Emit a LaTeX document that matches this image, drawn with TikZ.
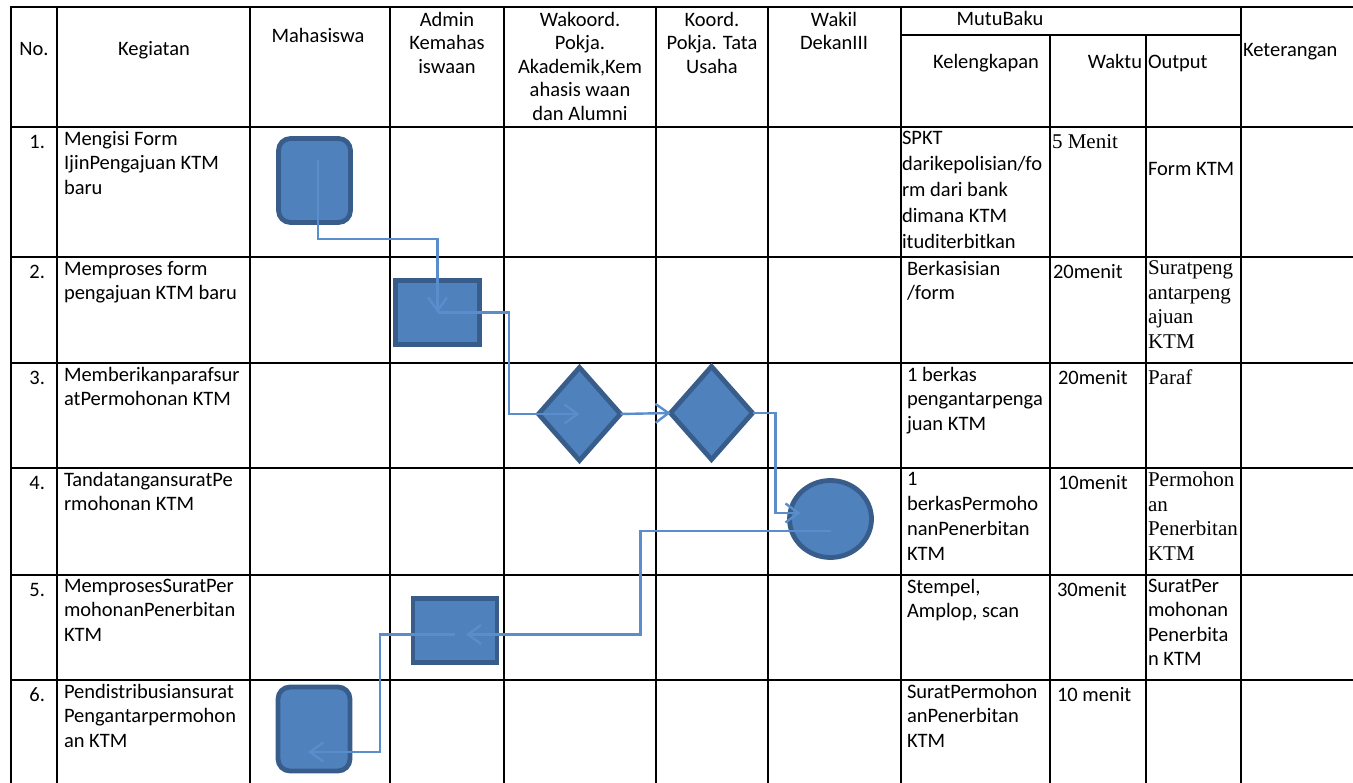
\documentclass[tikz,border=0pt]{standalone}
\usepackage{fontspec}
\setmainfont{Carlito}
\newfontfamily\tmsfont{Liberation Serif}
\usepackage{tikz}
\usetikzlibrary{positioning,arrows.meta,shapes.geometric}
\definecolor{shapefill}{HTML}{4F81BD}
\definecolor{shapeline}{HTML}{385D8A}
\definecolor{flowblue}{HTML}{5A8DCB}
\newcommand{\cellfont}{\fontsize{20.5}{24.5}\selectfont}
\newcommand{\hdrfont}{\fontsize{20.5}{23.5}\selectfont}
\newcommand{\serfont}{\tmsfont\fontsize{21}{24.5}\selectfont}

\begin{document}
\begin{tikzpicture}[
    x=1pt, y=-1pt,
    every node/.style={inner sep=0pt, outer sep=0pt},
    grid/.style={line width=2.6pt, black},                          % garis tabel
    hdr/.style={anchor=north, align=center, font=\hdrfont, execute at begin node=\strut},
    cell/.style={anchor=north west, align=left, font=\cellfont, execute at begin node=\strut},
    cellser/.style={cell, font=\serfont},                           % isian Times
    num/.style={anchor=north east, font=\cellfont, execute at begin node=\strut},
    blk/.style={fill=shapefill, draw=shapeline, line width=4.8pt},
    mulai/.style={blk, rectangle, rounded corners=12pt, minimum width=72pt, minimum height=84pt},
    proses/.style={blk, rectangle, minimum width=84pt, minimum height=64pt},
    putus/.style={blk, diamond, minimum width=82pt, minimum height=93pt},
    ttd/.style={blk, ellipse, minimum width=82pt, minimum height=77pt},
    alur/.style={line width=2.4pt, flowblue, -{Straight Barb[length=13pt,width=19pt]}}
  ]
  \useasboundingbox (0,0) rectangle (1353,783);

  % ============ kerangka tabel ==========================================
  \draw[grid] (1353,7) -- (11,7) -- (11,783);
  \draw[grid] (11,127) -- (1353,127);
  \draw[grid] (11,257) -- (1353,257);
  \draw[grid] (11,363) -- (1353,363);
  \draw[grid] (11,468) -- (1353,468);
  \draw[grid] (11,575) -- (1353,575);
  \draw[grid] (11,680) -- (1353,680);
  \draw[grid] (901,35) -- (1241,35);                              % bawah MutuBaku
  \draw[grid] (57,7) -- (57,783);
  \draw[grid] (250,7) -- (250,783);
  \draw[grid] (390,7) -- (390,783);
  \draw[grid] (504,7) -- (504,783);
  \draw[grid] (656,7) -- (656,783);
  \draw[grid] (768,7) -- (768,783);
  \draw[grid] (901,7) -- (901,783);
  \draw[grid] (1050,35) -- (1050,783);
  \draw[grid] (1146,35) -- (1146,783);
  \draw[grid] (1241,7) -- (1241,783);

  % ============ judul kolom ==============================================
  \node[hdr] (hNo) at (34,39) {No.};
  \node[hdr] (hKeg) at (154,39) {Kegiatan};
  \node[hdr] (hMhs) at (318,26) {Mahasiswa};
  \node[hdr] (hAdm) at (447,12) {Admin\\Kemahas\\iswaan};
  \node[hdr] (hWak) at (580,12) {Wakoord.\\Pokja.\\Akademik,Kem\\ahasis waan\\dan Alumni};
  \node[hdr] (hKor) at (712,12) {Koord.\\Pokja. Tata\\Usaha};
  \node[hdr] (hWd) at (834,12) {Wakil\\DekanIII};
  \node[hdr] (hMutu) at (1000,9) {MutuBaku};
  \node[hdr] (hKel) at (986,52) {Kelengkapan};
  \node[hdr, anchor=north east] (hWkt) at (1142,52) {Waktu};
  \node[hdr, anchor=north west] (hOut) at (1148,52) {Output};
  \node[hdr, anchor=north west] (hKet) at (1243,40) {Keterangan};

  % ============ isi baris ================================================
  \node[num] (n1) at (45,131) {1.};
  \node[cell] (k1) at (64,131) {Mengisi Form\\IjinPengajuan KTM\\baru};
  \node[cell, font=\fontsize{20.5}{26}\selectfont] (l1) at (902,131)
    {SPKT\\darikepolisian/fo\\rm dari bank\\dimana KTM\\ituditerbitkan};
  \node[cellser] (w1) at (1052,131) {5 Menit};
  \node[cell] (o1) at (1148,158) {Form KTM};

  \node[num] (n2) at (45,261) {2.};
  \node[cell] (k2) at (64,261) {Memproses form\\pengajuan KTM baru};
  \node[cell] (l2) at (907,261) {Berkasisian\\/form};
  \node[cell] (w2) at (1053,261) {20menit};
  \node[cellser] (o2) at (1148,261) {Suratpeng\\antarpeng\\ajuan\\KTM};

  \node[num] (n3) at (45,367) {3.};
  \node[cell] (k3) at (64,367) {Memberikanparafsur\\atPermohonan KTM};
  \node[cell] (l3) at (907,367) {1 berkas\\pengantarpenga\\juan KTM};
  \node[cell] (w3) at (1058,367) {20menit};
  \node[cellser] (o3) at (1148,367) {Paraf};

  \node[num] (n4) at (45,472) {4.};
  \node[cell] (k4) at (64,472) {TandatangansuratPe\\rmohonan KTM};
  \node[cell, font=\fontsize{20.5}{25}\selectfont] (l4) at (907,472)
    {1\\berkasPermoho\\nanPenerbitan\\KTM};
  \node[cell] (w4) at (1058,472) {10menit};
  \node[cellser] (o4) at (1148,472) {Permohon\\an\\Penerbitan\\KTM};

  \node[num] (n5) at (45,579) {5.};
  \node[cell] (k5) at (64,579) {MemprosesSuratPer\\mohonanPenerbitan\\KTM};
  \node[cell] (l5) at (907,579) {Stempel,\\Amplop, scan};
  \node[cell] (w5) at (1057,579) {30menit};
  \node[cell] (o5) at (1148,579) {SuratPer\\mohonan\\Penerbita\\n KTM};

  \node[num] (n6) at (45,684) {6.};
  \node[cell] (k6) at (64,684) {Pendistribusiansurat\\Pengantarpermohon\\an KTM};
  \node[cell] (l6) at (907,684) {SuratPermohon\\anPenerbitan\\KTM};
  \node[cell] (w6) at (1057,684) {10 menit};

  % ============ simbol alur ==============================================
  \node[mulai] (s1) at (314.5,180.5) {};
  \node[proses] (p1) at (437.5,312.5) {};
  \node[putus] (d1) at (579.5,414) {};
  \node[putus] (d2) at (711.5,413) {};
  \node[ttd] (c1) at (830.5,519) {};
  \node[proses] (p2) at (455,630.5) {};
  \node[mulai] (s2) at (314,729) {};

  \draw[alur] ([xshift=3.5pt,yshift=20pt]s1.center) -- ++(0,78.5) -| (p1.center);
  \draw[alur] (p1.center) -- ++(71.5,0) |- (d1.center);
  \draw[alur] (d1.east) -- (d2.west);
  \draw[alur] (d2.east) -- ++(23,0) |- ([xshift=11pt,yshift=6pt]c1.west);
  \draw[alur] ([yshift=-12pt]c1.center) -- ++(-190,0) |- ([xshift=11pt,yshift=-4pt]p2.center);
  \draw[alur] ([yshift=-4pt]p2.center) -- ++(-75,0) |- ([xshift=-6pt,yshift=-23pt]s2.center);

\end{tikzpicture}
\end{document}
